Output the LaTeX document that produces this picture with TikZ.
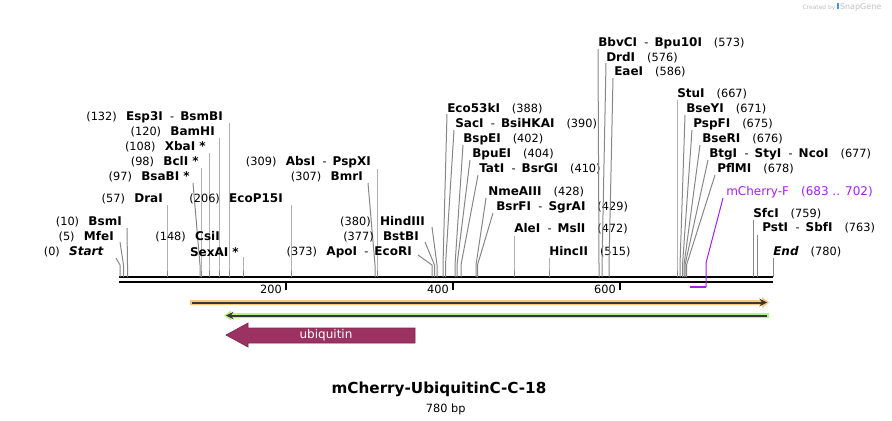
\documentclass[tikz,border=0pt]{standalone}
\usepackage{fontspec}
\setmainfont{DejaVu Sans}
\usetikzlibrary{positioning}

\definecolor{cutgray}{RGB}{135,135,135}
\definecolor{primer}{RGB}{160,32,240}
\definecolor{orangeband}{RGB}{250,200,120}
\definecolor{greenband}{RGB}{185,240,135}
\definecolor{featline}{RGB}{55,55,55}
\definecolor{ubq}{RGB}{155,50,98}
\definecolor{snapblue}{RGB}{60,150,230}

\newcommand{\ngap}{\hspace{9pt}}
\newcommand{\lgap}{\hspace{7pt}}
\newcommand{\cutsep}{\hspace{5.5pt}-\hspace{4.5pt}}
\newcommand{\rs}[1]{{\fontsize{9}{10}\selectfont\textbf{#1}}}

\tikzset{
  enz/.style={font=\fontsize{8.5}{10}\selectfont, inner sep=0pt},
  cutline/.style={draw=cutgray, line width=0.75pt},
}

\begin{document}
\begin{tikzpicture}[x=0.75pt, y=-0.75pt, >=stealth]
    \useasboundingbox (0,0) rectangle (892,421);

    % backbone
    \coordinate (bbl) at (119,277);
    \coordinate (bbr) at (773,277);
    \coordinate (bbl2) at (119,281.5);
    \coordinate (bbr2) at (773,281.5);
    \draw[line width=1.5pt] (bbl) -- (bbr);
    \draw[line width=1.5pt] (bbl2) -- (bbr2);

    \foreach \tx/\lab in {286/200, 453/400, 620/600} {
        \draw[line width=1.5pt] (\tx,282) -- (\tx,290);
        \node[enz, anchor=east] (tick\lab) at (\tx-4,289) {\lab};
    }

    % cut sites
    \foreach \an/\lx/\ly/\tx/\ty/\sx/\txt [count=\i] in {
        east/104/252/116/258/120/{(0)\lgap\rs{\textit{Start}}},
        east/114/237/120/242/123.5/{(5)\lgap\rs{MfeI}},
        east/122/222/127/228/127.5/{(10)\lgap\rs{BsmI}},
        east/163/199/167/205/167/{(57)\lgap\rs{DraI}},
        east/190/177/193/183/200/{(97)\lgap\rs{BsaBI *}},
        east/199/162/201/168/201/{(98)\lgap\rs{BclI *}},
        east/206/147/209/153/209/{(108)\lgap\rs{XbaI *}},
        east/215/132/219/138/219/{(120)\lgap\rs{BamHI}},
        east/223/117/229/123/229/{(132)\lgap\rs{Esp3I}\cutsep\rs{BsmBI}},
        east/239/252/243/257/243/{\rs{SexAI *}},
        east/283/199/291/205/291/{(206)\lgap\rs{EcoP15I}},
        east/363/177/368/183/375/{(307)\lgap\rs{BmrI}},
        east/371/162/377/169/377/{(309)\lgap\rs{AbsI}\cutsep\rs{PspXI}},
        east/412/252/418/255/432/{(373)\lgap\rs{ApoI}\cutsep\rs{EcoRI}},
        east/419/237/425/242/434.5/{(377)\lgap\rs{BstBI}},
        east/425/222/432/227/437/{(380)\lgap\rs{HindIII}},
        west/447/109/447/114/443/{\rs{Eco53kI}\ngap(388)},
        west/455/124/454/130/445.5/{\rs{SacI}\cutsep\rs{BsiHKAI}\ngap(390)},
        west/463/139/463/145/455/{\rs{BspEI}\ngap(402)},
        west/472/154/470/160/457/{\rs{BpuEI}\ngap(404)},
        west/479/169/478/175/461/{\rs{TatI}\cutsep\rs{BsrGI}\ngap(410)},
        west/488/192/486/198/476/{\rs{NmeAIII}\ngap(428)},
        west/496/207/493/213/477.5/{\rs{BsrFI}\cutsep\rs{SgrAI}\ngap(429)},
        west/514/229/514/236/514/{\rs{AleI}\cutsep\rs{MslI}\ngap(472)},
        west/549/252/549/258/549/{\rs{HincII}\ngap(515)},
        west/598/43/598/49/599/{\rs{BbvCI}\cutsep\rs{Bpu10I}\ngap(573)},
        west/606/58/606/63/602/{\rs{DrdI}\ngap(576)},
        west/614/72/613/78/609/{\rs{EaeI}\ngap(586)},
        west/677/94/677/100/677/{\rs{StuI}\ngap(667)},
        west/686/109/685/115/680/{\rs{BseYI}\ngap(671)},
        west/693/124/692/130/682.5/{\rs{PspFI}\ngap(675)},
        west/702/139/700/145/684/{\rs{BseRI}\ngap(676)},
        west/709/154/708/160/685/{\rs{BtgI}\cutsep\rs{StyI}\cutsep\rs{NcoI}\ngap(677)},
        west/717/169/715/175/686.5/{\rs{PflMI}\ngap(678)},
        west/753/214/753/220/753/{\rs{SfcI}\ngap(759)},
        west/762/228/757/235/757/{\rs{PstI}\cutsep\rs{SbfI}\ngap(763)},
        west/773/252/773/258/773/{\rs{\textit{End}}\ngap(780)}} {
        \node[enz, anchor=\an] (lab\i) at (\lx,\ly) {\txt};
        \coordinate (top\i) at (\tx,\ty);
        \coordinate (bend\i) at (\sx,265);
        \draw[cutline] (top\i) -- (bend\i) -- (bend\i |- bbl);
    }
    \node[enz, anchor=east] (csi) at (220,237) {(148)\lgap\rs{CsiI}};

    % primer
    \node[enz, anchor=west, text=primer, font=\fontsize{9}{10}\selectfont] (mcf) at (726,192) {mCherry-F\ngap(683 .. 702)};
    \coordinate (ptop) at (723,198);
    \coordinate (pbend) at (706,263);
    \coordinate (pend) at (706,287);
    \coordinate (pstart) at (690,287);
    \draw[primer, line width=0.75pt] (ptop) -- (pbend) -- (pend);
    \draw[primer, line width=1.5pt] (pend) -- (pstart);

    % features
    \fill[orangeband] (190,300) -- (762,300) -- (762,297) -- (769,302.5)
        -- (762,308) -- (762,305) -- (190,305) -- cycle;
    \draw[featline, line width=1.5pt, ->] (192,302.5) -- (767,302.5);
    \fill[greenband] (769,313) -- (231,313) -- (231,310.5) -- (224,315.5)
        -- (231,320.5) -- (231,318) -- (769,318) -- cycle;
    \draw[featline, line width=1.5pt, ->] (767,315.5) -- (226,315.5);

    \filldraw[fill=ubq, draw=ubq!80!black, line width=0.5pt] (226,335) -- (248,323)
        -- (248,328) -- (415,328) -- (415,343) -- (248,343) -- (248,347) -- cycle;
    \node[enz, text=white, font=\fontsize{9}{10}\selectfont] (ubqlab) at (326,335) {ubiquitin};

    \node[font=\bfseries\fontsize{11.4}{13}\selectfont] (title) at (439,389) {mCherry-UbiquitinC-C-18};
    \node[enz, below=2pt of title, xshift=5pt] (len) {780 bp};

    \node[font=\fontsize{4.5}{5}\selectfont, text=gray!50, anchor=east] (logo) at (886,7)
        {Created by\ \textcolor{snapblue}{\rule{1.2pt}{4.5pt}}\,{\fontsize{6}{7}\selectfont SnapGene}};
\end{tikzpicture}
\end{document}
